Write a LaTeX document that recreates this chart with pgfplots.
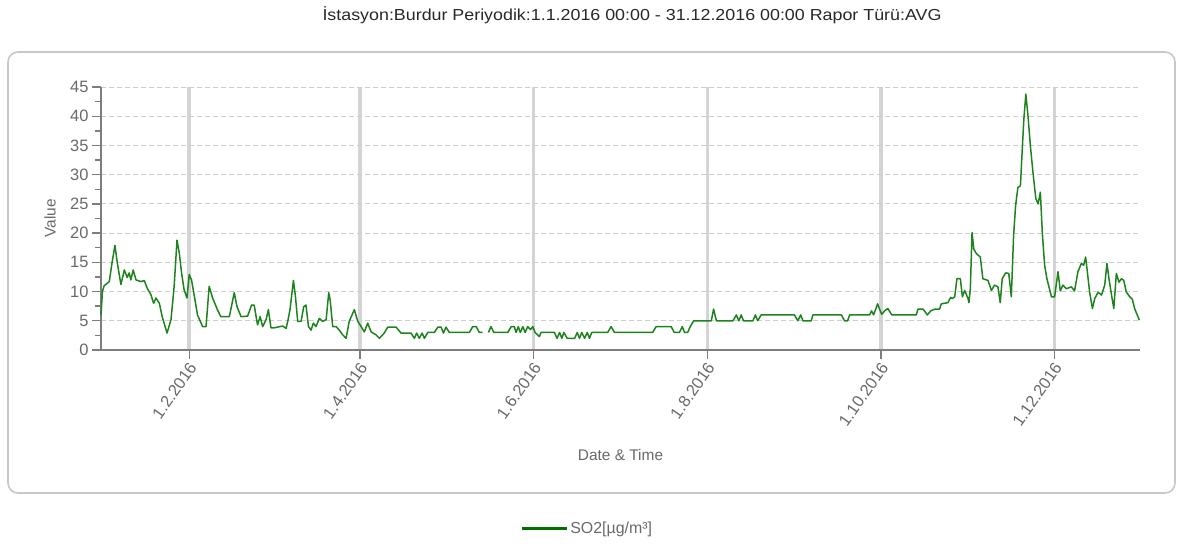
\documentclass[border=0pt]{standalone}
\usepackage{pgfplots}
\usepackage{pgfplotstable}
\pgfplotsset{compat=1.18}
\usepackage{fontspec}
\setmainfont{Liberation Sans}
\newfontfamily\titlefont[FakeStretch=1.12]{Liberation Sans}
\definecolor{txtgray}{RGB}{105,105,105}
\definecolor{titlegray}{RGB}{40,40,40}
\definecolor{framegray}{RGB}{200,200,200}
\definecolor{gridgray}{RGB}{205,205,205}
\definecolor{vgrid}{RGB}{212,212,212}
\definecolor{axgray}{RGB}{125,125,125}
\definecolor{lineg}{RGB}{30,130,30}
\definecolor{legg}{RGB}{0,110,0}
\pgfplotstableread{
day value
0 6
0.5 10
1.1 11
2.9 11.7
3.9 15
4.9 17.9
5.7 15
7.0 11.2
8.2 13.7
9.2 12.4
9.9 13.2
10.5 12
11.3 13.7
12.3 12
14.0 11.7
15.2 11.9
16.2 10.6
17.5 9.5
18.5 8
19.3 8.9
20.5 8
21.5 5.7
23.2 2.9
24.6 5.2
25.7 10.9
26.7 18.8
27.5 16.6
28.3 13.2
29.2 10.3
30.2 8.9
31.0 12.9
31.8 12
32.8 9.2
33.9 6
35.7 4
36.9 4
38.0 10.9
39.2 8.9
40.9 6.9
42.1 5.7
45.1 5.7
46.8 9.8
47.8 7.4
49.2 5.7
51.5 5.8
52.9 7.7
53.8 7.7
55.0 4.3
55.9 5.7
56.8 4
58.0 5.2
58.8 6.9
59.7 3.8
60.9 3.8
63.8 4.1
65.0 3.7
65.6 4.9
66.4 6.9
67.6 11.9
68.3 9.2
69.1 4.9
70.3 4.9
71.2 7.4
72.0 7.7
72.9 4
73.8 3.4
74.6 4.6
75.5 4
76.7 5.4
77.9 4.9
79.1 5.2
80.0 9.8
80.5 8.6
81.4 4
82.6 4
83.7 3.4
84.9 2.6
86.1 2
87.2 4.9
89.0 6.9
90.2 4.9
91.4 4
92.5 3.1
93.7 4.6
94.9 3.1
96.6 2.6
97.8 2
99.5 2.9
100.7 3.9
103.7 3.9
105.4 2.9
108.9 2.9
110.1 2
110.9 2.9
111.8 2
112.8 2.9
113.6 2
114.8 3
117.1 3
118.3 3.9
119.5 3.9
120.3 2.9
121.2 3.9
122.4 3
129.4 3
130.6 4
131.8 4
132.9 3
134.1 3
135.1 nan
136.1 3
137.0 4
138.0 3
142.9 3
144.1 4
145.2 4
145.8 3
146.6 4
147.3 3
148.2 4
149.0 3
149.9 4
150.9 3.5
151.7 4
152.5 3
154.0 2.3
154.6 3
159.3 3
160.2 2
161.1 3
161.9 2
162.6 3
163.8 2
166.4 2
167.3 3
168.1 2
168.9 3
169.9 2
170.8 3
171.6 2
172.4 3
178.0 3
179.2 4
180.4 3
193.8 3
195.0 4
200.3 4
201.4 3
203.2 3
204.2 4
205.0 3
206.1 3
207.0 4
208.2 5
214.4 5
215.2 7
216.2 5
222.0 5
223.2 6
224.1 5
224.9 6
225.7 5
229.0 5
229.9 6
230.7 5
231.9 6
243.6 6
244.8 5
245.8 6
246.6 5
249.5 5
250.1 6
260.1 6
261.2 5
262.3 5
263.0 6
270.0 6
270.7 6.7
271.4 6
272.4 7.3
272.8 7.9
273.5 7
274.3 6.1
275.3 6.7
276.4 7.1
277.8 6
286.4 6
287.0 7
288.8 7
290.3 6
291.5 6.7
292.9 7
294.6 7
295.2 7.9
297.5 8.1
298.5 9
299.1 8.8
299.9 9.1
300.7 12.2
301.9 12.2
302.6 9.1
303.4 10.2
304.0 9.5
304.6 8.8
304.9 8.1
305.4 10.5
306.0 20.1
306.6 17.3
307.5 16.5
308.9 15.9
309.8 12.2
311.6 11.9
312.8 10.2
313.9 11.1
315.1 10.8
315.9 8.1
316.6 12.2
317.8 13.2
318.9 13.1
319.8 9.1
320.6 19.6
321.3 24.7
322.1 27.8
323.0 28.1
323.7 34.9
324.2 39.5
324.9 43.8
325.7 39.8
326.5 34.9
327.4 30.4
328.4 25.9
329.2 25
330.0 27
330.7 19.9
331.5 14.5
332.3 12.2
333.9 9.1
335.0 9.1
336.2 13.4
337.0 10.1
337.9 11.1
339.1 10.5
340.9 10.8
342.0 10.1
343.2 13.4
344.4 14.8
345.2 14.5
345.9 15.9
346.5 13.4
347.3 9.9
348.3 7.1
349.1 8.8
350.3 9.9
351.5 9.4
352.6 11.1
353.4 14.8
354.1 12.2
355.0 9.4
355.8 7.1
356.7 13.1
357.6 11.6
358.5 12.2
359.3 11.9
360.2 9.9
361.4 9.1
362.3 8.7
363.1 7.1
364.8 5.1
}\soii
\begin{document}
\begin{tikzpicture}
\path[use as bounding box] (0,0) rectangle (1178bp,-547bp);
\draw[framegray, line width=1.6bp, rounded corners=10bp] (8bp,-52bp) rectangle (1175bp,-493bp);
\node[font=\titlefont\fontsize{16}{19}\selectfont, text=titlegray] at (632bp,-15bp) {İstasyon:Burdur Periyodik:1.1.2016 00:00 - 31.12.2016 00:00 Rapor Türü:AVG};
\begin{axis}[
  at={(101bp,-350bp)}, anchor=south west,
  scale only axis, width=1039bp, height=263bp,
  xmin=0, xmax=365, ymin=0, ymax=45,
  axis lines*=left,
  x axis line style={axgray, line width=2.6bp},
  y axis line style={axgray, line width=1.8bp},
  xtick={31,91,152,213,274,335},
  xticklabels={1.2.2016,1.4.2016,1.6.2016,1.8.2016,1.10.2016,1.12.2016},
  ytick={0,5,...,45},
  minor y tick num=1,
  tick align=outside,
  major tick length=9bp, minor tick length=6bp,
  every tick/.style={axgray, line width=1.4bp},
  xmajorgrids, ymajorgrids,
  x grid style={vgrid, line width=3.5bp},
  y grid style={gridgray, dashed, line width=0.9bp, dash pattern=on 5bp off 3bp},
  tick label style={font=\fontsize{16.5}{18}\selectfont, text=txtgray},
  /pgf/number format/assume math mode=true,
  xticklabel style={rotate=55, anchor=east, xshift=1bp, yshift=-6bp},
  xlabel={Date \& Time}, ylabel={Value},
  label style={font=\fontsize{15.5}{17}\selectfont, text=txtgray},
  xlabel style={at={(axis description cs:0.5,-0.40)}, anchor=center},
  ylabel style={at={(axis description cs:-0.049,0.5)}, anchor=center},
  unbounded coords=jump,
  clip=false,
  legend style={at={(0.468,-0.679)}, anchor=center, draw=none, fill=none,
    font=\fontsize{16}{18}\selectfont, text=txtgray},
  legend image code/.code={\draw[legg, line width=3bp] (0bp,0bp) -- (45bp,0bp);},
]
\addplot[lineg, line width=1.5bp, line join=round] table[x=day, y=value] {\soii};
\addlegendentry{SO2[µg/m³]}
\end{axis}
\end{tikzpicture}
\end{document}
